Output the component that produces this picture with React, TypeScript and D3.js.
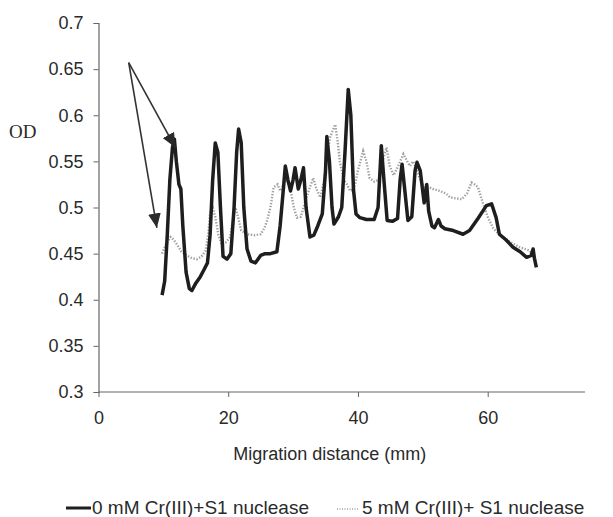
import React, { useEffect, useRef } from 'react';
import * as d3 from 'd3';

// 0 mM Cr(III) + S1 nuclease (solid trace)
const solidX = [9.8, 10.2, 10.6, 11.0, 11.4, 11.7, 12.0, 12.4, 12.7, 13.0, 13.5, 14.0, 14.4, 15.0, 15.7, 16.3, 16.8, 17.2, 17.6, 18.0, 18.4, 18.8, 19.2, 19.8, 20.4, 20.9, 21.3, 21.6, 22.0, 22.4, 22.9, 23.5, 24.2, 25.0, 25.7, 26.5, 27.5, 28.0, 28.5, 28.8, 29.2, 29.6, 30.0, 30.3, 30.8, 31.2, 31.6, 32.0, 32.6, 33.2, 33.8, 34.5, 35.0, 35.2, 35.6, 36.0, 36.3, 37.0, 37.5, 38.0, 38.5, 38.9, 39.3, 39.7, 40.3, 41.3, 42.5, 43.1, 43.6, 44.0, 44.5, 45.3, 46.1, 46.5, 46.8, 47.2, 47.7, 48.3, 48.8, 49.1, 49.6, 50.2, 50.6, 50.9, 51.4, 51.8, 52.4, 52.8, 53.4, 54.7, 56.2, 57.2, 58.5, 59.8, 60.6, 61.3, 61.8, 62.8, 63.9, 65.0, 66.0, 66.7, 67.0, 67.2, 67.5];
const solidY = [0.405, 0.42, 0.47, 0.53, 0.565, 0.574, 0.55, 0.525, 0.52, 0.48, 0.43, 0.412, 0.41, 0.418, 0.425, 0.433, 0.44, 0.47, 0.53, 0.57, 0.56, 0.5, 0.447, 0.444, 0.45, 0.5, 0.56, 0.585, 0.57, 0.5, 0.455, 0.442, 0.44, 0.448, 0.45, 0.45, 0.452, 0.48, 0.52, 0.545, 0.53, 0.518, 0.53, 0.543, 0.52, 0.53, 0.543, 0.5, 0.468, 0.47, 0.48, 0.493, 0.54, 0.577, 0.55, 0.5, 0.482, 0.49, 0.5, 0.56, 0.628, 0.6, 0.52, 0.493, 0.489, 0.487, 0.487, 0.5, 0.567, 0.53, 0.486, 0.485, 0.488, 0.53, 0.547, 0.52, 0.486, 0.49, 0.54, 0.549, 0.54, 0.505, 0.525, 0.496, 0.48, 0.478, 0.487, 0.48, 0.477, 0.475, 0.471, 0.475, 0.488, 0.502, 0.504, 0.489, 0.471, 0.465, 0.457, 0.452, 0.446, 0.448, 0.455, 0.445, 0.435];

// 5 mM Cr(III) + S1 nuclease (dotted trace)
const dottedX = [9.8, 10.4, 11.1, 11.6, 12.1, 12.8, 13.6, 14.4, 15.2, 15.9, 16.5, 16.9, 17.2, 17.6, 18.0, 18.5, 19.0, 19.6, 20.3, 20.8, 21.1, 21.5, 22.0, 22.9, 24.0, 25.0, 25.6, 26.0, 26.5, 27.0, 27.6, 28.0, 28.6, 29.0, 29.6, 30.1, 30.6, 31.2, 31.8, 32.5, 33.1, 33.6, 34.2, 34.8, 35.3, 35.7, 36.2, 36.5, 36.9, 37.2, 37.8, 38.3, 38.8, 39.4, 40.0, 40.8, 41.3, 41.8, 42.5, 43.2, 43.8, 44.4, 44.9, 45.5, 46.2, 47.0, 47.6, 48.0, 48.5, 49.1, 49.7, 50.3, 51.0, 51.6, 52.6, 53.6, 54.2, 55.0, 56.0, 56.8, 57.5, 58.0, 58.5, 59.3, 60.0, 60.8, 61.6, 62.4, 63.6, 64.9, 65.8, 66.5, 67.0, 67.5];
const dottedY = [0.45, 0.46, 0.468, 0.465, 0.46, 0.452, 0.448, 0.445, 0.444, 0.447, 0.453, 0.47, 0.493, 0.5, 0.49, 0.47, 0.46, 0.462, 0.468, 0.49, 0.5, 0.49, 0.475, 0.471, 0.47, 0.471, 0.478, 0.486, 0.5, 0.522, 0.525, 0.518, 0.525, 0.53, 0.52, 0.5, 0.489, 0.49, 0.505, 0.52, 0.532, 0.52, 0.511, 0.53, 0.56, 0.576, 0.585, 0.59, 0.57, 0.55, 0.53, 0.525, 0.518, 0.52, 0.54, 0.561, 0.55, 0.532, 0.528, 0.53, 0.55, 0.565, 0.545, 0.535, 0.545, 0.558, 0.55, 0.545, 0.55, 0.54, 0.528, 0.522, 0.522, 0.52, 0.518, 0.515, 0.511, 0.51, 0.509, 0.515, 0.527, 0.525, 0.522, 0.504, 0.49, 0.478, 0.472, 0.468, 0.462, 0.457, 0.455, 0.453, 0.448, 0.442];

const xTicks = [0, 20, 40, 60];
const yTicks = [0.3, 0.35, 0.4, 0.45, 0.5, 0.55, 0.6, 0.65, 0.7];
const legendLabels = ['0 mM Cr(III)+S1 nuclease', '5 mM Cr(III)+ S1 nuclease'];

// annotation arrows: common tail, two heads (data units)
const arrowTail = [4.66, 0.657];
const arrowHeads = [[11.85, 0.565], [9.0, 0.478]];

const width = 613;
const height = 517;
const font = '"Liberation Sans", Arial, sans-serif';

export default function App() {
    const svgRef = useRef<SVGSVGElement>(null);

    useEffect(() => {
        const svg = d3.select(svgRef.current);
        svg.selectAll('*').remove();

        const x = d3.scaleLinear().domain([0, 75]).range([98.5, 585]);
        const y = d3.scaleLinear().domain([0.3, 0.7]).range([392, 23]);

        const defs = svg.append('defs');
        defs.append('marker')
            .attr('id', 'head')
            .attr('viewBox', '0 0 10 10')
            .attr('refX', 10)
            .attr('refY', 5)
            .attr('markerWidth', 9)
            .attr('markerHeight', 8)
            .attr('markerUnits', 'strokeWidth')
            .attr('orient', 'auto')
            .attr('preserveAspectRatio', 'none')
            .append('path')
            .attr('d', 'M0,0 L10,5 L0,10 Z')
            .attr('fill', '#2a2a2a');

        // y axis
        const yAxis = svg.append('g')
            .attr('transform', `translate(${x(0)},0)`)
            .call(d3.axisLeft(y).tickValues(yTicks).tickSize(5).tickPadding(10).tickFormat(d => String(+d)));
        // x axis
        const xAxis = svg.append('g')
            .attr('transform', `translate(0,${y(0.3)})`)
            .call(d3.axisBottom(x).tickValues(xTicks).tickSize(5).tickPadding(14).tickFormat(d => String(d)));

        [xAxis, yAxis].forEach(g => {
            g.select('.domain').attr('stroke', '#666').attr('stroke-width', 1.2);
            g.selectAll('.tick line').attr('stroke', '#666');
            g.selectAll('.tick text')
                .attr('font-family', font)
                .attr('font-size', 18)
                .attr('fill', '#2a2a2a');
        });
        xAxis.select('.domain').attr('d', `M${x(0)},0H${x(75)}`);

        svg.append('text')
            .attr('x', x(37.5) - 12)
            .attr('y', 460)
            .attr('text-anchor', 'middle')
            .attr('font-family', font)
            .attr('font-size', 18)
            .attr('fill', '#2a2a2a')
            .text('Migration distance (mm)');

        svg.append('text')
            .attr('x', 9)
            .attr('y', 138)
            .attr('font-family', '"Liberation Serif", "Times New Roman", serif')
            .attr('font-size', 19)
            .attr('fill', '#2a2a2a')
            .text('OD');

        const line = d3.line<number[]>()
            .x(d => d[0])
            .y(d => d[1]);

        const dotted = dottedX.map((v, i) => [x(v), y(dottedY[i])]);
        const solid = solidX.map((v, i) => [x(v), y(solidY[i])]);

        svg.append('path')
            .attr('d', line(dotted))
            .attr('fill', 'none')
            .attr('stroke', '#a0a0a0')
            .attr('stroke-width', 2.4)
            .attr('stroke-dasharray', '1.4,1.6');

        svg.append('path')
            .attr('d', line(solid))
            .attr('fill', 'none')
            .attr('stroke', '#1e1e1e')
            .attr('stroke-width', 3.5)
            .attr('stroke-linejoin', 'round');

        svg.append('g')
            .selectAll('line')
            .data(arrowHeads)
            .join('line')
            .attr('x1', x(arrowTail[0]))
            .attr('y1', y(arrowTail[1]))
            .attr('x2', d => x(d[0]))
            .attr('y2', d => y(d[1]))
            .attr('stroke', '#333')
            .attr('stroke-width', 1.6)
            .attr('marker-end', 'url(#head)');

        // legend
        const legend = svg.append('g').attr('font-family', font).attr('font-size', 19).attr('fill', '#2a2a2a');
        legend.append('line')
            .attr('x1', 66).attr('x2', 91).attr('y1', 508).attr('y2', 508)
            .attr('stroke', '#1e1e1e').attr('stroke-width', 3);
        legend.append('text').attr('x', 92).attr('y', 514).text(legendLabels[0]);
        legend.append('line')
            .attr('x1', 337).attr('x2', 359).attr('y1', 509).attr('y2', 509)
            .attr('stroke', '#a0a0a0').attr('stroke-width', 1.5).attr('stroke-dasharray', '1,1.5');
        legend.append('text').attr('x', 362).attr('y', 514).text(legendLabels[1]);
    }, []);

    return (
        <svg ref={svgRef} width={width} height={height}
            style={{ position: 'absolute', left: 0, top: 0, background: '#fff' }} />
    );
}
